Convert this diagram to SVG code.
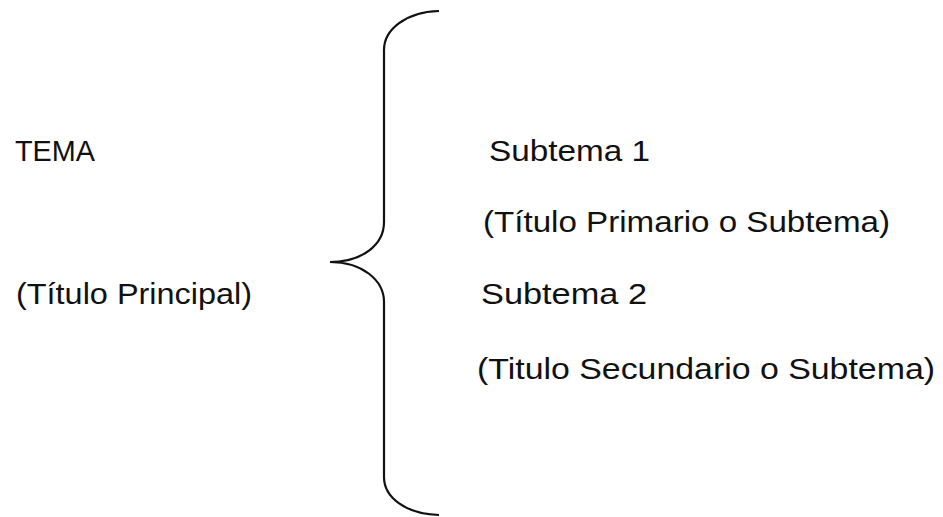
<svg xmlns="http://www.w3.org/2000/svg" width="943" height="517" viewBox="0 0 943 517">
<style>
text{font-family:"Liberation Sans","DejaVu Sans",sans-serif;font-size:29px;fill:#111}
.brace{fill:none;stroke:#111;stroke-width:2.2}
</style>
<rect width="943" height="517" fill="#fff"/>
<g id="tema">
<text x="15" y="161" textLength="80" lengthAdjust="spacingAndGlyphs">TEMA</text>
<text x="16" y="304" textLength="236" lengthAdjust="spacingAndGlyphs">(Título Principal)</text>
</g>
<g id="connectors">
<path class="brace" d="M439,11 C405,12 384,30 384,50 L384,222 C384,245 362,262 330,262 C362,262 384,280 384,302 L384,477 C384,497 405,514 439,515"/>
</g>
<g id="subtemas">
<text x="489" y="161" textLength="161" lengthAdjust="spacingAndGlyphs">Subtema 1</text>
<text x="483" y="232" textLength="407" lengthAdjust="spacingAndGlyphs">(Título Primario o Subtema)</text>
<text x="481" y="304" textLength="166" lengthAdjust="spacingAndGlyphs">Subtema 2</text>
<text x="477" y="379" textLength="458" lengthAdjust="spacingAndGlyphs">(Titulo Secundario o Subtema)</text>
</g>
</svg>
